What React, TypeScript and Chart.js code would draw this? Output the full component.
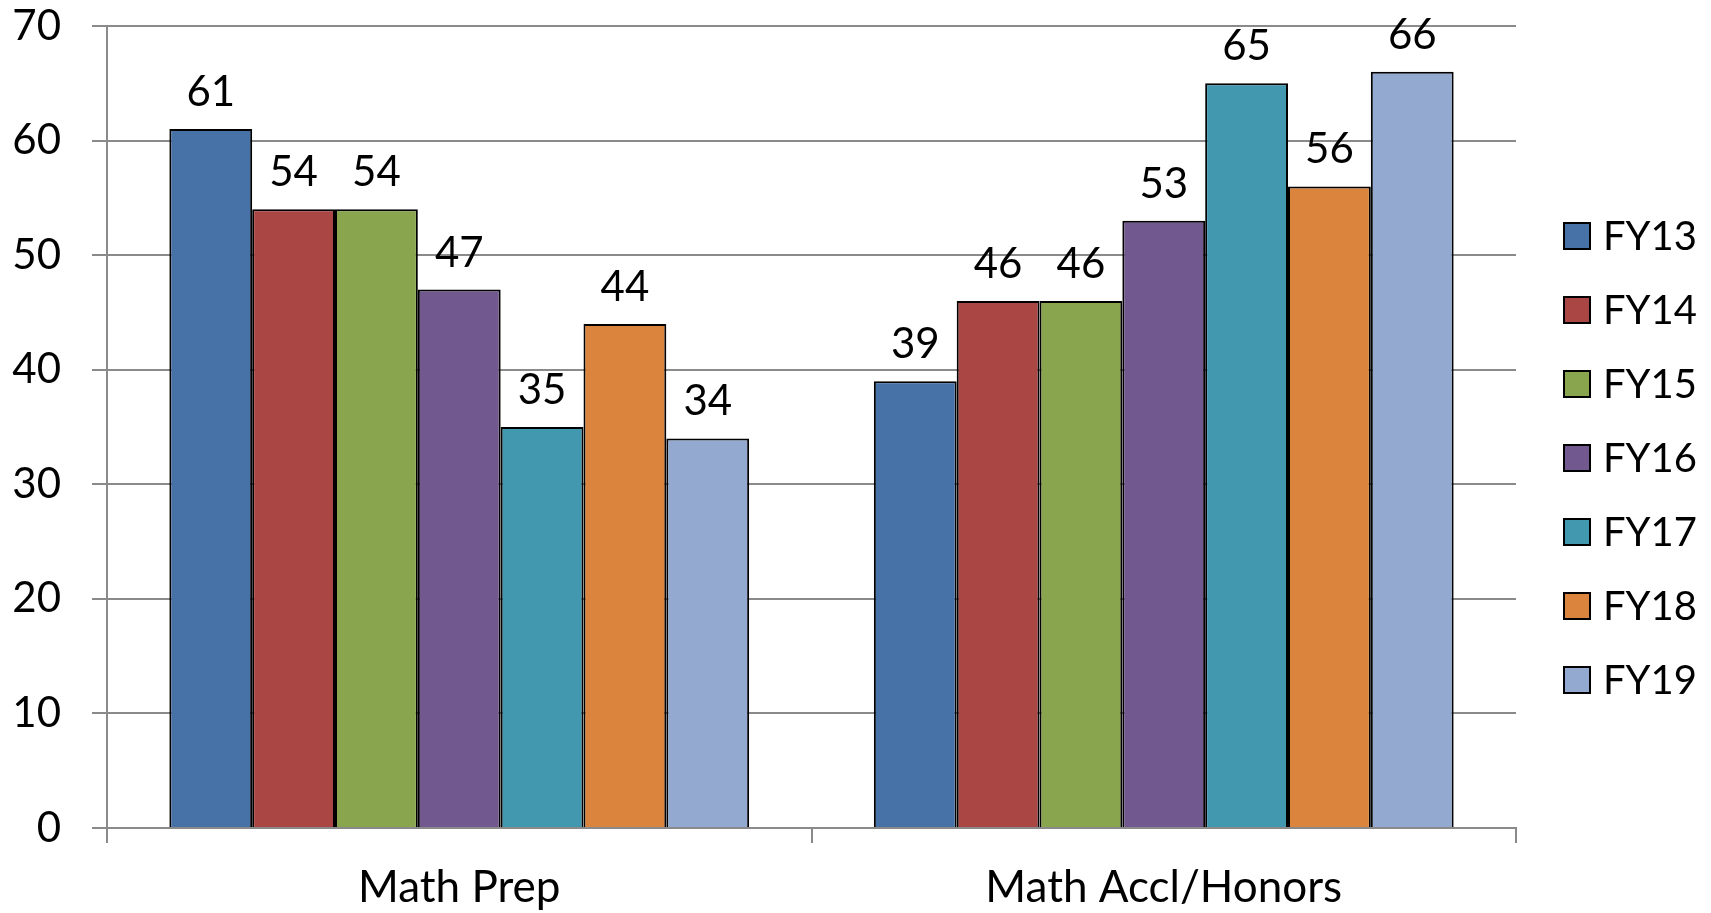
import React, { useEffect, useRef } from "react";
import { Chart, registerables } from "chart.js";

Chart.register(...registerables);

const categories = ["Math Prep", "Math Accl/Honors"];
const seriesLabels = ["FY13", "FY14", "FY15", "FY16", "FY17", "FY18", "FY19"];
const fy13 = [61, 39];
const fy14 = [54, 46];
const fy15 = [54, 46];
const fy16 = [47, 53];
const fy17 = [35, 65];
const fy18 = [44, 56];
const fy19 = [34, 66];
const seriesValues = [fy13, fy14, fy15, fy16, fy17, fy18, fy19];
const seriesColors = ["#4672A8", "#AA4643", "#89A54E", "#71588F", "#4198AF", "#DB843D", "#93A9CF"];
const yTicks = [0, 10, 20, 30, 40, 50, 60, 70];

const FONT = "Lato, 'Open Sans', sans-serif";
const FS = 42;
const XFS = 44;
const LFS = 40;
const GRID = "#8a8a8a";

const valueLabels = {
  id: "valueLabels",
  afterDatasetsDraw(chart: any) {
    const ctx = chart.ctx;
    ctx.save();
    ctx.font = `${FS}px ${FONT}`;
    ctx.fillStyle = "#000";
    ctx.textAlign = "center";
    ctx.textBaseline = "alphabetic";
    chart.data.datasets.forEach((ds: any, i: number) => {
      const meta = chart.getDatasetMeta(i);
      meta.data.forEach((el: any, j: number) => {
        ctx.fillText(String(ds.data[j]), el.x, el.y - 23);
      });
    });
    ctx.restore();
  },
};

const sideLegend = {
  id: "sideLegend",
  afterDraw(chart: any) {
    const ctx = chart.ctx;
    ctx.save();
    ctx.font = `${LFS}px ${FONT}`;
    ctx.textAlign = "left";
    ctx.textBaseline = "middle";
    const box = 26;
    const x0 = 1564;
    const yStart = 236;
    const step = 74;
    chart.data.datasets.forEach((ds: any, i: number) => {
      const cy = yStart + i * step;
      ctx.fillStyle = ds.backgroundColor;
      ctx.fillRect(x0, cy - box / 2, box, box);
      ctx.strokeStyle = "#000";
      ctx.lineWidth = 2;
      ctx.strokeRect(x0, cy - box / 2, box, box);
      ctx.fillStyle = "#000";
      ctx.fillText(ds.label, x0 + 39, cy + 1);
    });
    ctx.restore();
  },
};

export default function App() {
  const ref = useRef<HTMLCanvasElement | null>(null);
  useEffect(() => {
    document.body.style.margin = "0";
    const canvas = ref.current!;
    const chart = new Chart(canvas, {
      type: "bar",
      data: {
        labels: categories,
        datasets: seriesLabels.map((l, i) => ({
          label: l,
          data: seriesValues[i],
          backgroundColor: seriesColors[i],
          borderColor: "#000",
          borderWidth: 2,
          barPercentage: 1,
          categoryPercentage: 0.823,
        })),
      },
      options: {
        responsive: false,
        animation: false,
        layout: { padding: { top: 26, right: 195, left: 0, bottom: 0 } },
        plugins: { legend: { display: false }, tooltip: { enabled: false } },
        scales: {
          x: {
            grid: {
              drawOnChartArea: false,
              drawTicks: true,
              tickLength: 15,
              color: GRID,
              lineWidth: 2,
              offset: true,
            },
            border: { color: GRID, width: 2 },
            ticks: {
              color: "#000",
              font: { family: FONT, size: XFS },
              padding: 18,
              maxRotation: 0,
            },
            afterFit: (s: any) => {
              s.height = 85;
              s.paddingLeft = 0;
              s.paddingRight = 0;
            },
          },
          y: {
            min: 0,
            max: 70,
            afterBuildTicks: (s: any) => {
              s.ticks = yTicks.map((v) => ({ value: v }));
            },
            grid: { color: GRID, lineWidth: 2, tickLength: 15 },
            border: { color: GRID, width: 2 },
            ticks: {
              color: "#000",
              font: { family: FONT, size: FS },
              padding: 31,
            },
            afterFit: (s: any) => {
              s.width = 107;
              s.paddingTop = 0;
              s.paddingBottom = 0;
            },
          },
        },
      },
      plugins: [valueLabels, sideLegend],
    });
    return () => chart.destroy();
  }, []);
  return (
    <div style={{ width: 1711, height: 913 }}>
      <canvas ref={ref} width={1711} height={913} style={{ display: "block" }} />
    </div>
  );
}
